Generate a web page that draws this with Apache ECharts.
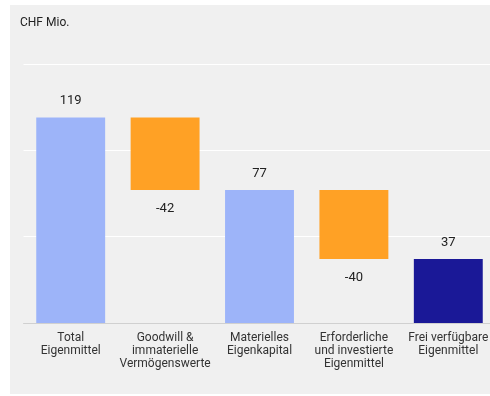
<!DOCTYPE html>
<html>
<head>
<meta charset="utf-8">
<script src="https://cdn.jsdelivr.net/npm/echarts@6/dist/echarts.min.js"></script>
<style>
html,body{margin:0;padding:0;background:#fff;overflow:hidden;}
#c{width:500px;height:396px;}
</style>
</head>
<body>
<div id="c"></div>
<script>
const categories = ['Total\nEigenmittel', 'Goodwill &\nimmaterielle\nVermögenswerte', 'Materielles\nEigenkapital', 'Erforderliche\nund investierte\nEigenmittel', 'Frei verfügbare\nEigenmittel'];
const values = [119, -42, 77, -40, 37];
const kinds = ['total', 'delta', 'total', 'delta', 'final'];
const yTicks = [0, 50, 100, 150];

const colors = { total: '#9db4f9', delta: '#ffa125', final: '#1a1897' };

// build waterfall base + visible heights
const base = [], heights = [];
let running = 0;
values.forEach((v, i) => {
  if (kinds[i] === 'delta') {
    running += v;
    base.push(v < 0 ? running : running - v);
    heights.push(Math.abs(v));
  } else {
    running = v;
    base.push(0);
    heights.push(v);
  }
});

const font = 'Roboto, "Liberation Sans", sans-serif';
const chart = echarts.init(document.getElementById('c'), null, { renderer: 'canvas' });
chart.setOption({
  animation: false,
  backgroundColor: '#fff',
  graphic: [
    { type: 'rect', z: -10, shape: { x: 10, y: 5, width: 480, height: 389 }, style: { fill: '#f0f0f0' } },
    { type: 'text', left: 20, top: 17, style: { text: 'CHF Mio.', font: '12px ' + font, fill: '#222' } }
  ],
  grid: { left: 23.5, right: 4.5, top: 64, bottom: 73, containLabel: false },
  xAxis: {
    type: 'category',
    data: categories,
    axisLine: { show: true, lineStyle: { color: '#d0d0d0', width: 1 } },
    axisTick: { show: false },
    axisLabel: { color: '#333', fontSize: 12, fontFamily: font, lineHeight: 13, margin: 8, interval: 0 }
  },
  yAxis: {
    type: 'value',
    min: yTicks[0], max: yTicks[yTicks.length - 1], interval: 50,
    axisLabel: { show: false },
    axisLine: { show: false },
    axisTick: { show: false },
    splitLine: { lineStyle: { color: '#ffffff', width: 1 } }
  },
  series: [
    {
      type: 'bar', stack: 'w', data: base,
      itemStyle: { color: 'transparent' }, barWidth: '73%', silent: true
    },
    {
      type: 'bar', stack: 'w', barWidth: '73%',
      data: heights.map((h, i) => ({
        value: h,
        itemStyle: { color: colors[kinds[i]] },
        label: {
          show: true,
          position: values[i] < 0 ? 'bottom' : 'top',
          distance: values[i] < 0 ? 12 : 10,
          formatter: () => String(values[i]),
          color: '#222', fontSize: 13, fontFamily: font
        }
      }))
    }
  ]
});
</script>
</body>
</html>
